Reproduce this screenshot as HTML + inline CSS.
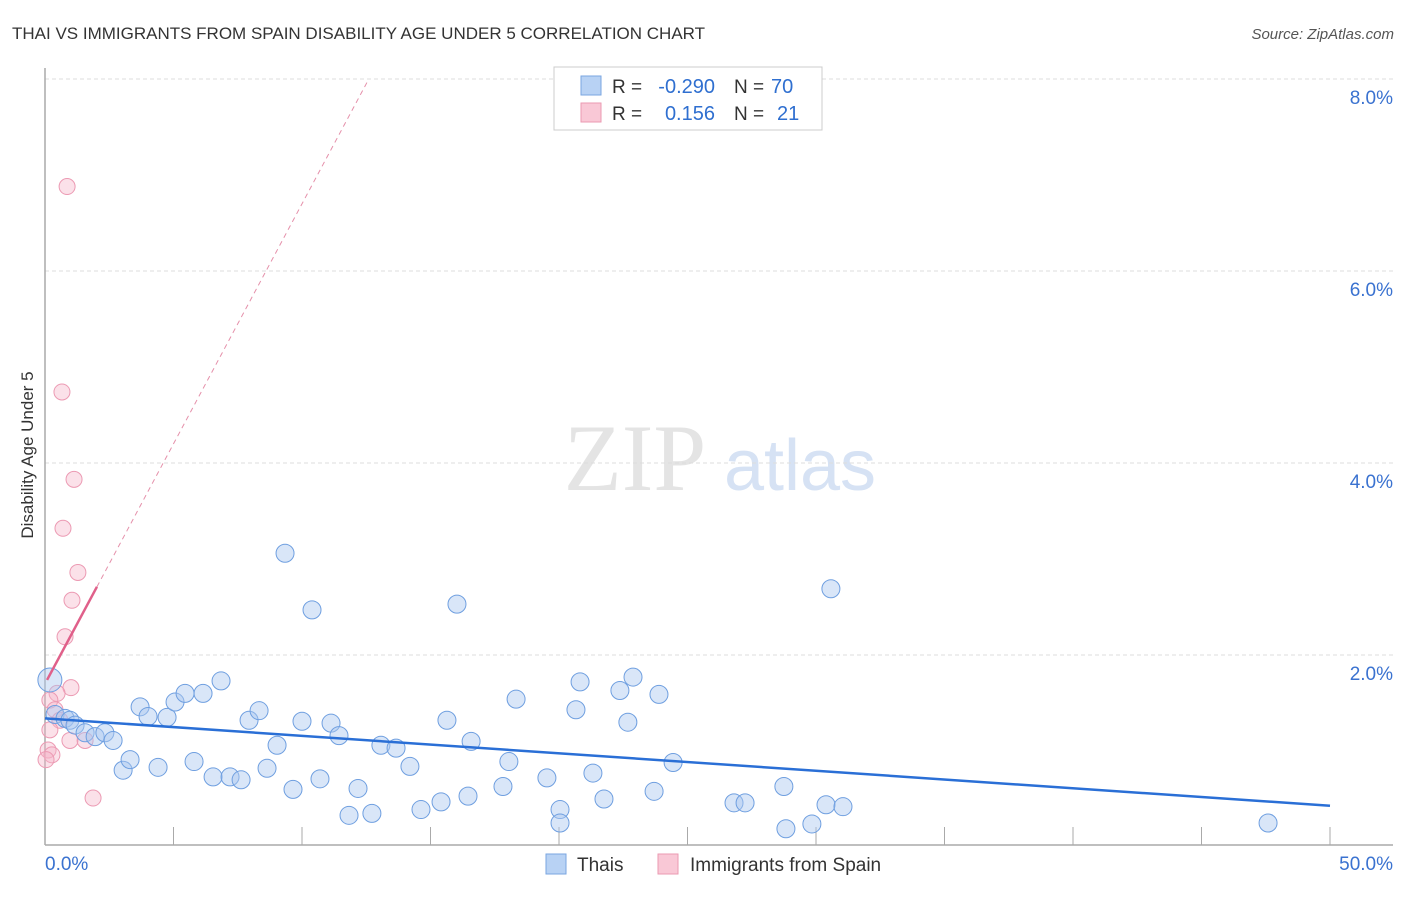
<!DOCTYPE html>
<html><head><meta charset="utf-8"><style>
body{margin:0;background:#fff;font-family:"Liberation Sans",sans-serif}
</style></head><body>
<svg id="c" width="1406" height="892" xmlns="http://www.w3.org/2000/svg" font-family="Liberation Sans, sans-serif">
<text x="12" y="39" font-size="17" fill="#333">THAI VS IMMIGRANTS FROM SPAIN DISABILITY AGE UNDER 5 CORRELATION CHART</text>
<text x="1394" y="39" font-size="15" fill="#555" font-style="italic" text-anchor="end">Source: ZipAtlas.com</text>
<text x="33" y="455" font-size="17" fill="#333" text-anchor="middle" transform="rotate(-90 33 455)">Disability Age Under 5</text>
<g><text x="635" y="490" font-size="95" fill="#e4e4e4" font-family="Liberation Serif, serif" text-anchor="middle">ZIP</text><text x="800" y="490" font-size="72" fill="#d6e2f4" text-anchor="middle">atlas</text></g>
<g id="grid"></g><g id="axes"></g><g id="marks"></g>
<g>
<rect x="554" y="67" width="268" height="63" fill="#fff" stroke="#ccc"/>
<rect x="581" y="76" width="20" height="19" fill="#b8d2f4" stroke="#7aa6e0"/>
<rect x="581" y="103" width="20" height="19" fill="#f9c8d6" stroke="#eb9ab2"/>
<text x="612" y="93" font-size="19" fill="#333">R =</text>
<text x="715" y="93" font-size="20" fill="#2f6fd0" text-anchor="end">-0.290</text>
<text x="734" y="93" font-size="19" fill="#333">N =</text>
<text x="771" y="93" font-size="20" fill="#2f6fd0">70</text>
<text x="612" y="120" font-size="19" fill="#333">R =</text>
<text x="715" y="120" font-size="20" fill="#2f6fd0" text-anchor="end">0.156</text>
<text x="734" y="120" font-size="19" fill="#333">N =</text>
<text x="777" y="120" font-size="20" fill="#2f6fd0">21</text>
</g>
<g>
<rect x="546" y="854" width="20" height="20" fill="#b8d2f4" stroke="#7aa6e0"/>
<text x="577" y="871" font-size="19" fill="#333">Thais</text>
<rect x="658" y="854" width="20" height="20" fill="#f9c8d6" stroke="#eb9ab2"/>
<text x="690" y="871" font-size="19" fill="#333">Immigrants from Spain</text>
</g>
</svg>
<script>
const yTicks=[2,4,6,8];
const yTickLabels=["2.0%","4.0%","6.0%","8.0%"];
const xTickLabels=["0.0%","50.0%"];
const thaiX=[0.19,0.39,0.78,0.97,1.17,1.56,1.95,2.33,2.65,3.04,3.31,3.70,4.01,4.40,4.75,5.06,5.45,5.80,6.15,6.54,6.85,7.20,7.63,7.94,8.33,8.64,9.03,9.34,9.65,10.0,10.39,10.70,11.13,11.44,11.83,12.18,12.72,13.07,13.66,14.20,14.63,15.41,15.64,16.03,16.46,16.58,17.82,18.05,18.33,19.53,20.04,20.04,20.66,20.82,21.32,21.75,22.37,22.68,22.88,23.70,23.89,24.44,26.81,27.24,28.75,28.83,29.84,30.39,30.58,31.05,47.59];
const thaiY=[1.74,1.38,1.34,1.32,1.27,1.19,1.15,1.19,1.11,0.80,0.91,1.46,1.36,0.83,1.35,1.51,1.60,0.89,1.60,0.73,1.73,0.73,0.70,1.32,1.42,0.82,1.06,3.06,0.60,1.31,2.47,0.71,1.29,1.16,0.33,0.61,0.35,1.06,1.03,0.84,0.39,0.47,1.32,2.53,0.53,1.10,0.63,0.89,1.54,0.72,0.39,0.25,1.43,1.72,0.77,0.50,1.63,1.30,1.77,0.58,1.59,0.88,0.46,0.46,0.63,0.19,0.24,0.44,2.69,0.42,0.25];
const spainX=[0.86,0.66,1.13,0.70,1.28,1.05,0.78,1.01,0.47,0.19,0.39,0.58,0.19,0.97,1.56,0.12,0.27,1.87,0.04];
const spainY=[6.88,4.74,3.83,3.32,2.86,2.57,2.19,1.66,1.60,1.53,1.43,1.32,1.22,1.11,1.11,1.01,0.96,0.51,0.91];
const thaiTrend=[1.34,0.43];
const spainTrend=[1.70,0.50];
const X=v=>45+v*25.7, Y=v=>847-v*96;
const NS="http://www.w3.org/2000/svg";
function mk(p,t,a){const e=document.createElementNS(NS,t);for(const k in a)e.setAttribute(k,a[k]);document.getElementById(p).appendChild(e);return e;}
yTicks.forEach((t,i)=>{
 const g=mk('grid','line',{x1:45,x2:1393,y1:Y(t),y2:Y(t),stroke:'#ddd','stroke-dasharray':'4,3'});
 
 
 const l=mk('grid','text',{x:1393,y:Y(t)+25,'font-size':19,fill:'#3a72d0','text-anchor':'end'});l.textContent=yTickLabels[i];
 
 
});
let a=mk('axes','line',{x1:45,x2:45,y1:68,y2:845,stroke:'#aaa','stroke-width':1.5});


a=mk('axes','line',{x1:45,x2:1393,y1:845,y2:845,stroke:'#aaa','stroke-width':1.5});


for(let i=1;i<=10;i++){const t=mk('axes','line',{x1:X(i*5),x2:X(i*5),y1:827,y2:845,stroke:'#aaa'});
 
 }
let tl=mk('axes','text',{x:45,y:870,'font-size':19,fill:'#3a72d0'});tl.textContent=xTickLabels[0];


tl=mk('axes','text',{x:1393,y:870,'font-size':19,fill:'#3a72d0','text-anchor':'end'});tl.textContent=xTickLabels[1];


spainX.forEach((x,i)=>{const c=mk('marks','circle',{cx:X(x),cy:Y(spainY[i]),r:8,fill:'rgba(246,180,200,0.4)',stroke:'#ec9ab3','stroke-width':1});
 
 });
thaiX.forEach((x,i)=>{const c=mk('marks','circle',{cx:X(x),cy:Y(thaiY[i]),r:i==0?12:9,fill:'rgba(170,200,240,0.45)',stroke:'#6f9fe0','stroke-width':1});
 
 });
let s=0.50,ys=spainTrend[0],xe=(8.0-ys)/s;
let ln=mk('marks','line',{x1:X(2.02),y1:Y(ys+s*2.02),x2:X(xe),y2:Y(8.0),stroke:'#e590aa','stroke-dasharray':'5,4'});


ln=mk('marks','line',{x1:X(0.08),y1:Y(ys+s*0.08),x2:X(2.02),y2:Y(ys+s*2.02),stroke:'#e0608a','stroke-width':2.5});


ln=mk('marks','line',{x1:X(0),y1:Y(thaiTrend[0]),x2:X(50),y2:Y(thaiTrend[1]),stroke:'#2a6fd6','stroke-width':2.5});


</script>
</body></html>
